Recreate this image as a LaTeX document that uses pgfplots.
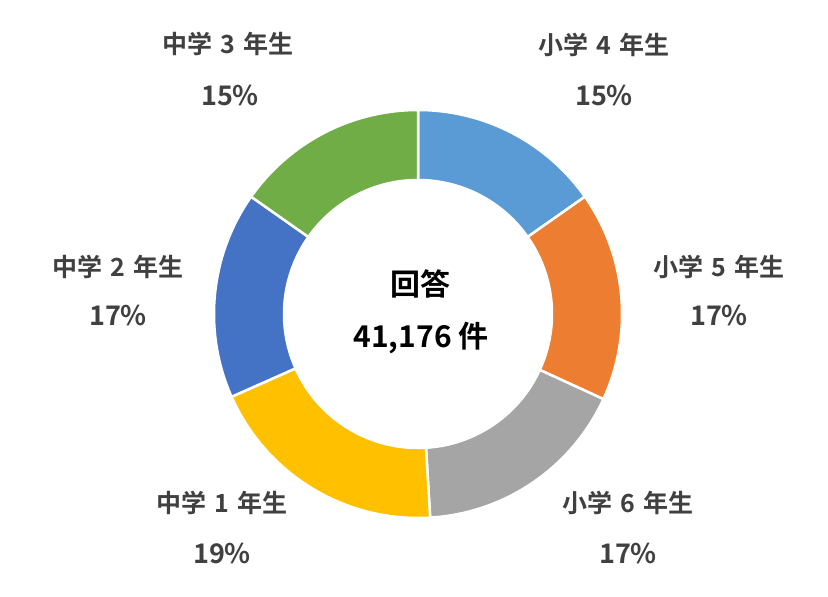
\documentclass[border=0pt]{standalone}
\usepackage{pgfplots}
\pgfplotsset{compat=1.18}
\usepackage{pgfplotstable}
\usepackage{fontspec}
\setmainfont{Noto Sans CJK JP}[BoldFont={* Bold}]
\newfontfamily\jpb{Noto Sans CJK JP Bold}

\definecolor{c4}{HTML}{5B9BD5}
\definecolor{c5}{HTML}{ED7D31}
\definecolor{c6}{HTML}{A5A5A5}
\definecolor{m1}{HTML}{FFC000}
\definecolor{m2}{HTML}{4472C4}
\definecolor{m3}{HTML}{70AD47}
\definecolor{lbl}{HTML}{404040}

% share of answers (percent), clockwise from 12 o'clock
\pgfplotstableread{
name  share  col
s4    15.25  c4
s5    16.6   c5
s6    17.2   c6
m1    19.3   m1
m2    16.4   m2
m3    15.25  m3
}\shares

\newcommand{\gr}[2]{#1\hspace{0.32em}#2\hspace{0.32em}年生}
\newcommand{\pc}[1]{{\fontsize{27bp}{30bp}\selectfont #1\%}}

\begin{document}
\begin{tikzpicture}
\useasboundingbox (0,0) rectangle (828bp,597bp);
\begin{axis}[at={(0,0)}, anchor=south west,
  width=828bp, height=597bp, scale only axis,
  xmin=0, xmax=828, ymin=0, ymax=597,
  hide axis, clip=false]
  \def\cx{418}\def\cy{283}
  \pgfplotstablegetrowsof{\shares}
  \pgfmathtruncatemacro{\last}{\pgfplotsretval-1}
  \foreach \i in {0,...,\last}{
    \pgfplotstablegetelem{\i}{share}\of{\shares}\let\v\pgfplotsretval
    \pgfplotstablegetelem{\i}{col}\of{\shares}\let\c\pgfplotsretval
    \gdef\before{0}
    \ifnum\i>0
      \foreach \j in {0,...,\numexpr\i-1\relax}{
        \pgfplotstablegetelem{\j}{share}\of{\shares}
        \pgfmathsetmacro{\tmp}{\before+\pgfplotsretval}
        \global\let\before\tmp
      }
    \fi
    \pgfmathsetmacro{\aa}{90-3.6*\before}
    \pgfmathsetmacro{\ab}{90-3.6*(\before+\v)}
    \edef\temp{\noexpand\fill[\c, draw=white, line width=2.5bp]
      ([shift={(\aa:204bp)}]axis cs:\cx,\cy)
      arc[start angle=\aa, end angle=\ab, radius=204bp]
      -- ([shift={(\ab:134bp)}]axis cs:\cx,\cy)
      arc[start angle=\ab, end angle=\aa, radius=134bp] -- cycle;}
    \temp
  }

  \begin{scope}[every node/.style={font=\jpb\fontsize{25bp}{28bp}\selectfont, text=lbl, anchor=center}]
    \node at (axis cs:604,552) {\gr{小学}{4}};
    \node at (axis cs:604,501) {\pc{15}};
    \node at (axis cs:719,330) {\gr{小学}{5}};
    \node at (axis cs:719,281) {\pc{17}};
    \node at (axis cs:628,94) {\gr{小学}{6}};
    \node at (axis cs:628,43) {\pc{17}};
    \node at (axis cs:222,94) {\gr{中学}{1}};
    \node at (axis cs:222,43) {\pc{19}};
    \node at (axis cs:118,330) {\gr{中学}{2}};
    \node at (axis cs:118,281) {\pc{17}};
    \node at (axis cs:228,553) {\gr{中学}{3}};
    \node at (axis cs:230,501) {\pc{15}};
  \end{scope}
  \node[font=\jpb\fontsize{30bp}{34bp}\selectfont, text=black] at (axis cs:420,313) {回答};
  \node[font=\jpb\fontsize{30bp}{34bp}\selectfont, text=black] at (axis cs:421,259) {41,176 件};
\end{axis}
\end{tikzpicture}
\end{document}
